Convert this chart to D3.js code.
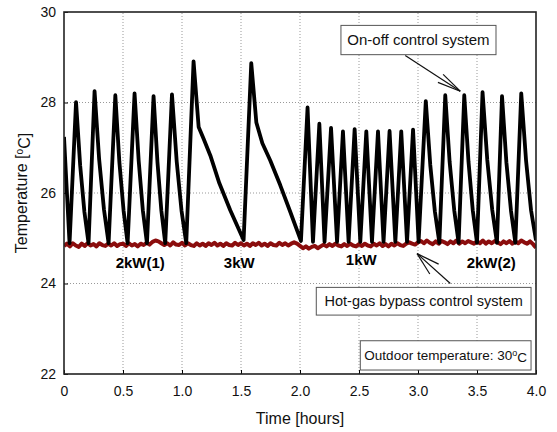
<!DOCTYPE html>
<html>
<head>
<meta charset="utf-8">
<script src="https://cdn.jsdelivr.net/npm/d3@7"></script>
<style>
  body { margin: 0; background: #fff; }
  text { font-family: "Liberation Sans", Arial, sans-serif; }
</style>
</head>
<body>
<div id="chart"></div>
<script>
// On-off control system: [time (h), temperature (C)]
const onOffSeries = [
  [0.0, 27.24], [0.047, 24.89],
  [0.102, 28.01], [0.137, 26.61], [0.173, 25.58], [0.208, 24.89],
  [0.259, 28.25], [0.298, 26.74], [0.339, 25.63], [0.378, 24.89],
  [0.435, 28.16], [0.469, 26.69], [0.505, 25.61], [0.539, 24.89],
  [0.598, 28.2], [0.633, 26.71], [0.668, 25.62], [0.703, 24.89],
  [0.759, 28.14], [0.792, 26.68], [0.825, 25.61], [0.858, 24.89],
  [0.915, 28.18], [0.955, 26.7], [0.996, 25.61], [1.036, 24.89],
  [1.098, 28.91], [1.141, 27.46], [1.183, 27.2], [1.24, 26.83], [1.316, 26.22], [1.409, 25.62], [1.522, 24.96],
  [1.587, 28.87], [1.63, 27.56], [1.681, 27.1], [1.748, 26.72], [1.833, 26.17], [1.918, 25.58], [2.008, 24.94],
  [2.064, 27.89], [2.11, 24.92],
  [2.164, 27.53], [2.208, 24.92],
  [2.263, 27.44], [2.314, 24.92],
  [2.364, 27.36], [2.412, 24.92],
  [2.463, 27.41], [2.511, 24.92],
  [2.562, 27.36], [2.61, 24.92],
  [2.661, 27.36], [2.708, 24.92],
  [2.759, 27.37], [2.808, 24.92],
  [2.858, 27.36], [2.907, 24.92],
  [2.958, 27.4], [3.005, 24.92],
  [3.066, 28.03], [3.104, 26.62], [3.143, 25.59], [3.181, 24.9],
  [3.231, 28.16], [3.268, 26.69], [3.307, 25.62], [3.344, 24.9],
  [3.392, 28.16], [3.428, 26.69], [3.464, 25.62], [3.5, 24.9],
  [3.547, 28.23], [3.587, 26.73], [3.629, 25.63], [3.669, 24.9],
  [3.712, 28.14], [3.749, 26.68], [3.788, 25.61], [3.825, 24.9],
  [3.875, 28.2], [3.916, 26.71], [3.958, 25.62], [4.0, 24.95]
];

// Hot-gas bypass control system: one reading every 0.025 h from 0 to 4 h
const hotGasStep = 0.025;
const hotGasValues = [
  24.83, 24.88, 24.82, 24.89, 24.84, 24.81, 24.88, 24.83, 24.89, 24.84, 24.87, 24.82, 24.89, 24.85, 24.83, 24.88, 24.84, 24.89, 24.83, 24.87,
  24.88, 24.83, 24.89, 24.84, 24.87, 24.82, 24.88, 24.85, 24.9, 24.86, 24.92, 24.95, 24.93, 24.89, 24.85, 24.89, 24.84, 24.91, 24.86, 24.85,
  24.9, 24.84, 24.89, 24.85, 24.83, 24.89, 24.84, 24.88, 24.83, 24.89, 24.85, 24.9, 24.84, 24.88, 24.83, 24.89, 24.85, 24.84, 24.9, 24.85,
  24.89, 24.84, 24.88, 24.83, 24.89, 24.85, 24.9, 24.84, 24.88, 24.83, 24.89, 24.85, 24.84, 24.9, 24.85, 24.89, 24.84, 24.88, 24.91, 24.88,
  24.83, 24.78, 24.82, 24.77, 24.81, 24.83, 24.78, 24.82, 24.86, 24.82, 24.87, 24.83, 24.88, 24.84, 24.82, 24.87, 24.83, 24.88, 24.84, 24.82,
  24.87, 24.83, 24.88, 24.84, 24.82, 24.88, 24.84, 24.89, 24.83, 24.87, 24.82, 24.88, 24.84, 24.89, 24.85, 24.83, 24.88, 24.91, 24.88, 24.86,
  24.91, 24.94, 24.89, 24.95, 24.9, 24.87, 24.93, 24.88, 24.94, 24.91, 24.87, 24.93, 24.89, 24.95, 24.88, 24.93, 24.89, 24.94, 24.91, 24.88,
  24.93, 24.89, 24.95, 24.88, 24.93, 24.89, 24.94, 24.91, 24.87, 24.93, 24.89, 24.94, 24.88, 24.93, 24.89, 24.95, 24.91, 24.88, 24.93, 24.87, 24.79
];

const xTicks = [0, 0.5, 1.0, 1.5, 2.0, 2.5, 3.0, 3.5, 4.0];
const xTickLabels = ['0', '0.5', '1.0', '1.5', '2.0', '2.5', '3.0', '3.5', '4.0'];
const yTicks = [22, 24, 26, 28, 30];

// capacity labels: [text, time, temperature]
const capacityLabels = [
  ['2kW(1)', 0.646, 24.34],
  ['3kW', 1.485, 24.34],
  ['1kW', 2.519, 24.4],
  ['2kW(2)', 3.621, 24.34]
];

const WIDTH = 557;
const HEIGHT = 432;
const MARGIN = { TOP: 12, RIGHT: 21, BOTTOM: 58, LEFT: 64 };

const xScale = d3.scaleLinear().domain([0, 4]).range([MARGIN.LEFT, WIDTH - MARGIN.RIGHT]);
const yScale = d3.scaleLinear().domain([22, 30]).range([HEIGHT - MARGIN.BOTTOM, MARGIN.TOP]);

const svg = d3.select('#chart').append('svg').attr('width', WIDTH).attr('height', HEIGHT);
svg.append('rect').attr('width', WIDTH).attr('height', HEIGHT).attr('fill', '#fff');

svg.append('clipPath').attr('id', 'plot-clip')
  .append('rect')
  .attr('x', MARGIN.LEFT).attr('y', MARGIN.TOP)
  .attr('width', WIDTH - MARGIN.LEFT - MARGIN.RIGHT)
  .attr('height', HEIGHT - MARGIN.TOP - MARGIN.BOTTOM);

// dotted grid
svg.append('g')
  .selectAll('line')
  .data(xTicks.slice(1, -1))
  .join('line')
  .attr('x1', (d) => xScale(d)).attr('x2', (d) => xScale(d))
  .attr('y1', yScale(22)).attr('y2', yScale(30))
  .attr('stroke', '#999').attr('stroke-width', 1).attr('stroke-dasharray', '1,2');

svg.append('g')
  .selectAll('line')
  .data(yTicks.slice(1, -1))
  .join('line')
  .attr('x1', xScale(0)).attr('x2', xScale(4))
  .attr('y1', (d) => yScale(d)).attr('y2', (d) => yScale(d))
  .attr('stroke', '#999').attr('stroke-width', 1).attr('stroke-dasharray', '1,2');

// axes (ticks pointing into the plot)
const xAxis = d3.axisBottom(xScale)
  .tickValues(xTicks)
  .tickFormat((d, i) => xTickLabels[i])
  .tickSizeInner(-4)
  .tickSizeOuter(0)
  .tickPadding(12);

const yAxis = d3.axisLeft(yScale)
  .tickValues(yTicks)
  .tickSizeInner(-4)
  .tickSizeOuter(0)
  .tickPadding(8);

const gx = svg.append('g')
  .attr('transform', 'translate(0,' + yScale(22) + ')')
  .call(xAxis);
gx.selectAll('text').attr('font-size', '14px').attr('fill', '#111');
gx.select('.domain').remove();

const gy = svg.append('g')
  .attr('transform', 'translate(' + xScale(0) + ',0)')
  .call(yAxis);
gy.selectAll('text').attr('font-size', '14px').attr('fill', '#111');
gy.select('.domain').remove();

// series
const line = d3.line()
  .x((d) => xScale(d[0]))
  .y((d) => yScale(d[1]));

svg.append('path')
  .datum(hotGasValues.map((v, i) => [i * hotGasStep, v]))
  .attr('clip-path', 'url(#plot-clip)')
  .attr('fill', 'none')
  .attr('stroke', '#8b0d0d')
  .attr('stroke-width', 4)
  .attr('stroke-linejoin', 'round')
  .attr('d', line);

svg.append('path')
  .datum(onOffSeries)
  .attr('clip-path', 'url(#plot-clip)')
  .attr('fill', 'none')
  .attr('stroke', '#000')
  .attr('stroke-width', 3.8)
  .attr('stroke-linejoin', 'round')
  .attr('d', line);

// frame
svg.append('rect')
  .attr('x', xScale(0)).attr('y', yScale(30))
  .attr('width', xScale(4) - xScale(0))
  .attr('height', yScale(22) - yScale(30))
  .attr('fill', 'none')
  .attr('stroke', '#222')
  .attr('stroke-width', 1.6);

// capacity labels
svg.append('g')
  .selectAll('text')
  .data(capacityLabels)
  .join('text')
  .attr('x', (d) => xScale(d[1]))
  .attr('y', (d) => yScale(d[2]))
  .attr('text-anchor', 'middle')
  .attr('font-size', '15px')
  .attr('font-weight', 'bold')
  .text((d) => d[0]);

// boxed notes: [t0, t1, T top, T bottom]
function noteBox(box, size, build) {
  svg.append('rect')
    .attr('x', xScale(box[0])).attr('y', yScale(box[2]))
    .attr('width', xScale(box[1]) - xScale(box[0]))
    .attr('height', yScale(box[3]) - yScale(box[2]))
    .attr('fill', '#fff').attr('stroke', '#555').attr('stroke-width', 1);
  const t = svg.append('text')
    .attr('x', (xScale(box[0]) + xScale(box[1])) / 2)
    .attr('y', (yScale(box[2]) + yScale(box[3])) / 2)
    .attr('dy', '0.36em')
    .attr('text-anchor', 'middle')
    .attr('font-size', size)
    .attr('fill', '#111');
  build(t);
}

function arrow(from, to, spread) {
  const x1 = xScale(from[0]), y1 = yScale(from[1]);
  const x2 = xScale(to[0]), y2 = yScale(to[1]);
  const g = svg.append('g').attr('stroke', '#111').attr('stroke-width', 1.2);
  g.append('line').attr('x1', x1).attr('y1', y1).attr('x2', x2).attr('y2', y2);
  const ang = Math.atan2(y1 - y2, x1 - x2);
  [-spread, spread].forEach((a) => {
    g.append('line')
      .attr('x1', x2).attr('y1', y2)
      .attr('x2', x2 + 24 * Math.cos(ang + a))
      .attr('y2', y2 + 24 * Math.sin(ang + a));
  });
}

arrow([2.892, 29.04], [3.358, 28.25], 0.2);
arrow([3.274, 24.0], [2.992, 24.66], 0.28);

noteBox([2.347, 3.661, 29.704, 29.057], '15px', (t) => t.text('On-off control system'));
noteBox([2.138, 3.958, 23.914, 23.302], '14.5px', (t) => t.text('Hot-gas bypass control system'));
noteBox([2.511, 3.958, 22.735, 22.088], '13.5px', (t) => {
  t.append('tspan').text('Outdoor temperature: 30');
  t.append('tspan').attr('dy', '-0.45em').attr('font-size', '9px').text('o');
  t.append('tspan').attr('dy', '0.45em').text('C');
});

// axis titles
svg.append('text')
  .attr('x', (xScale(0) + xScale(4)) / 2)
  .attr('y', 424)
  .attr('text-anchor', 'middle')
  .attr('font-size', '16px')
  .attr('fill', '#111')
  .text('Time [hours]');

const yTitle = svg.append('text')
  .attr('transform', 'translate(27,' + (yScale(22) + yScale(30)) / 2 + ') rotate(-90)')
  .attr('text-anchor', 'middle')
  .attr('font-size', '16px')
  .attr('fill', '#111');
yTitle.append('tspan').text('Temperature [');
yTitle.append('tspan').attr('dy', '-0.45em').attr('font-size', '10px').text('o');
yTitle.append('tspan').attr('dy', '0.45em').text('C]');
</script>
</body>
</html>
